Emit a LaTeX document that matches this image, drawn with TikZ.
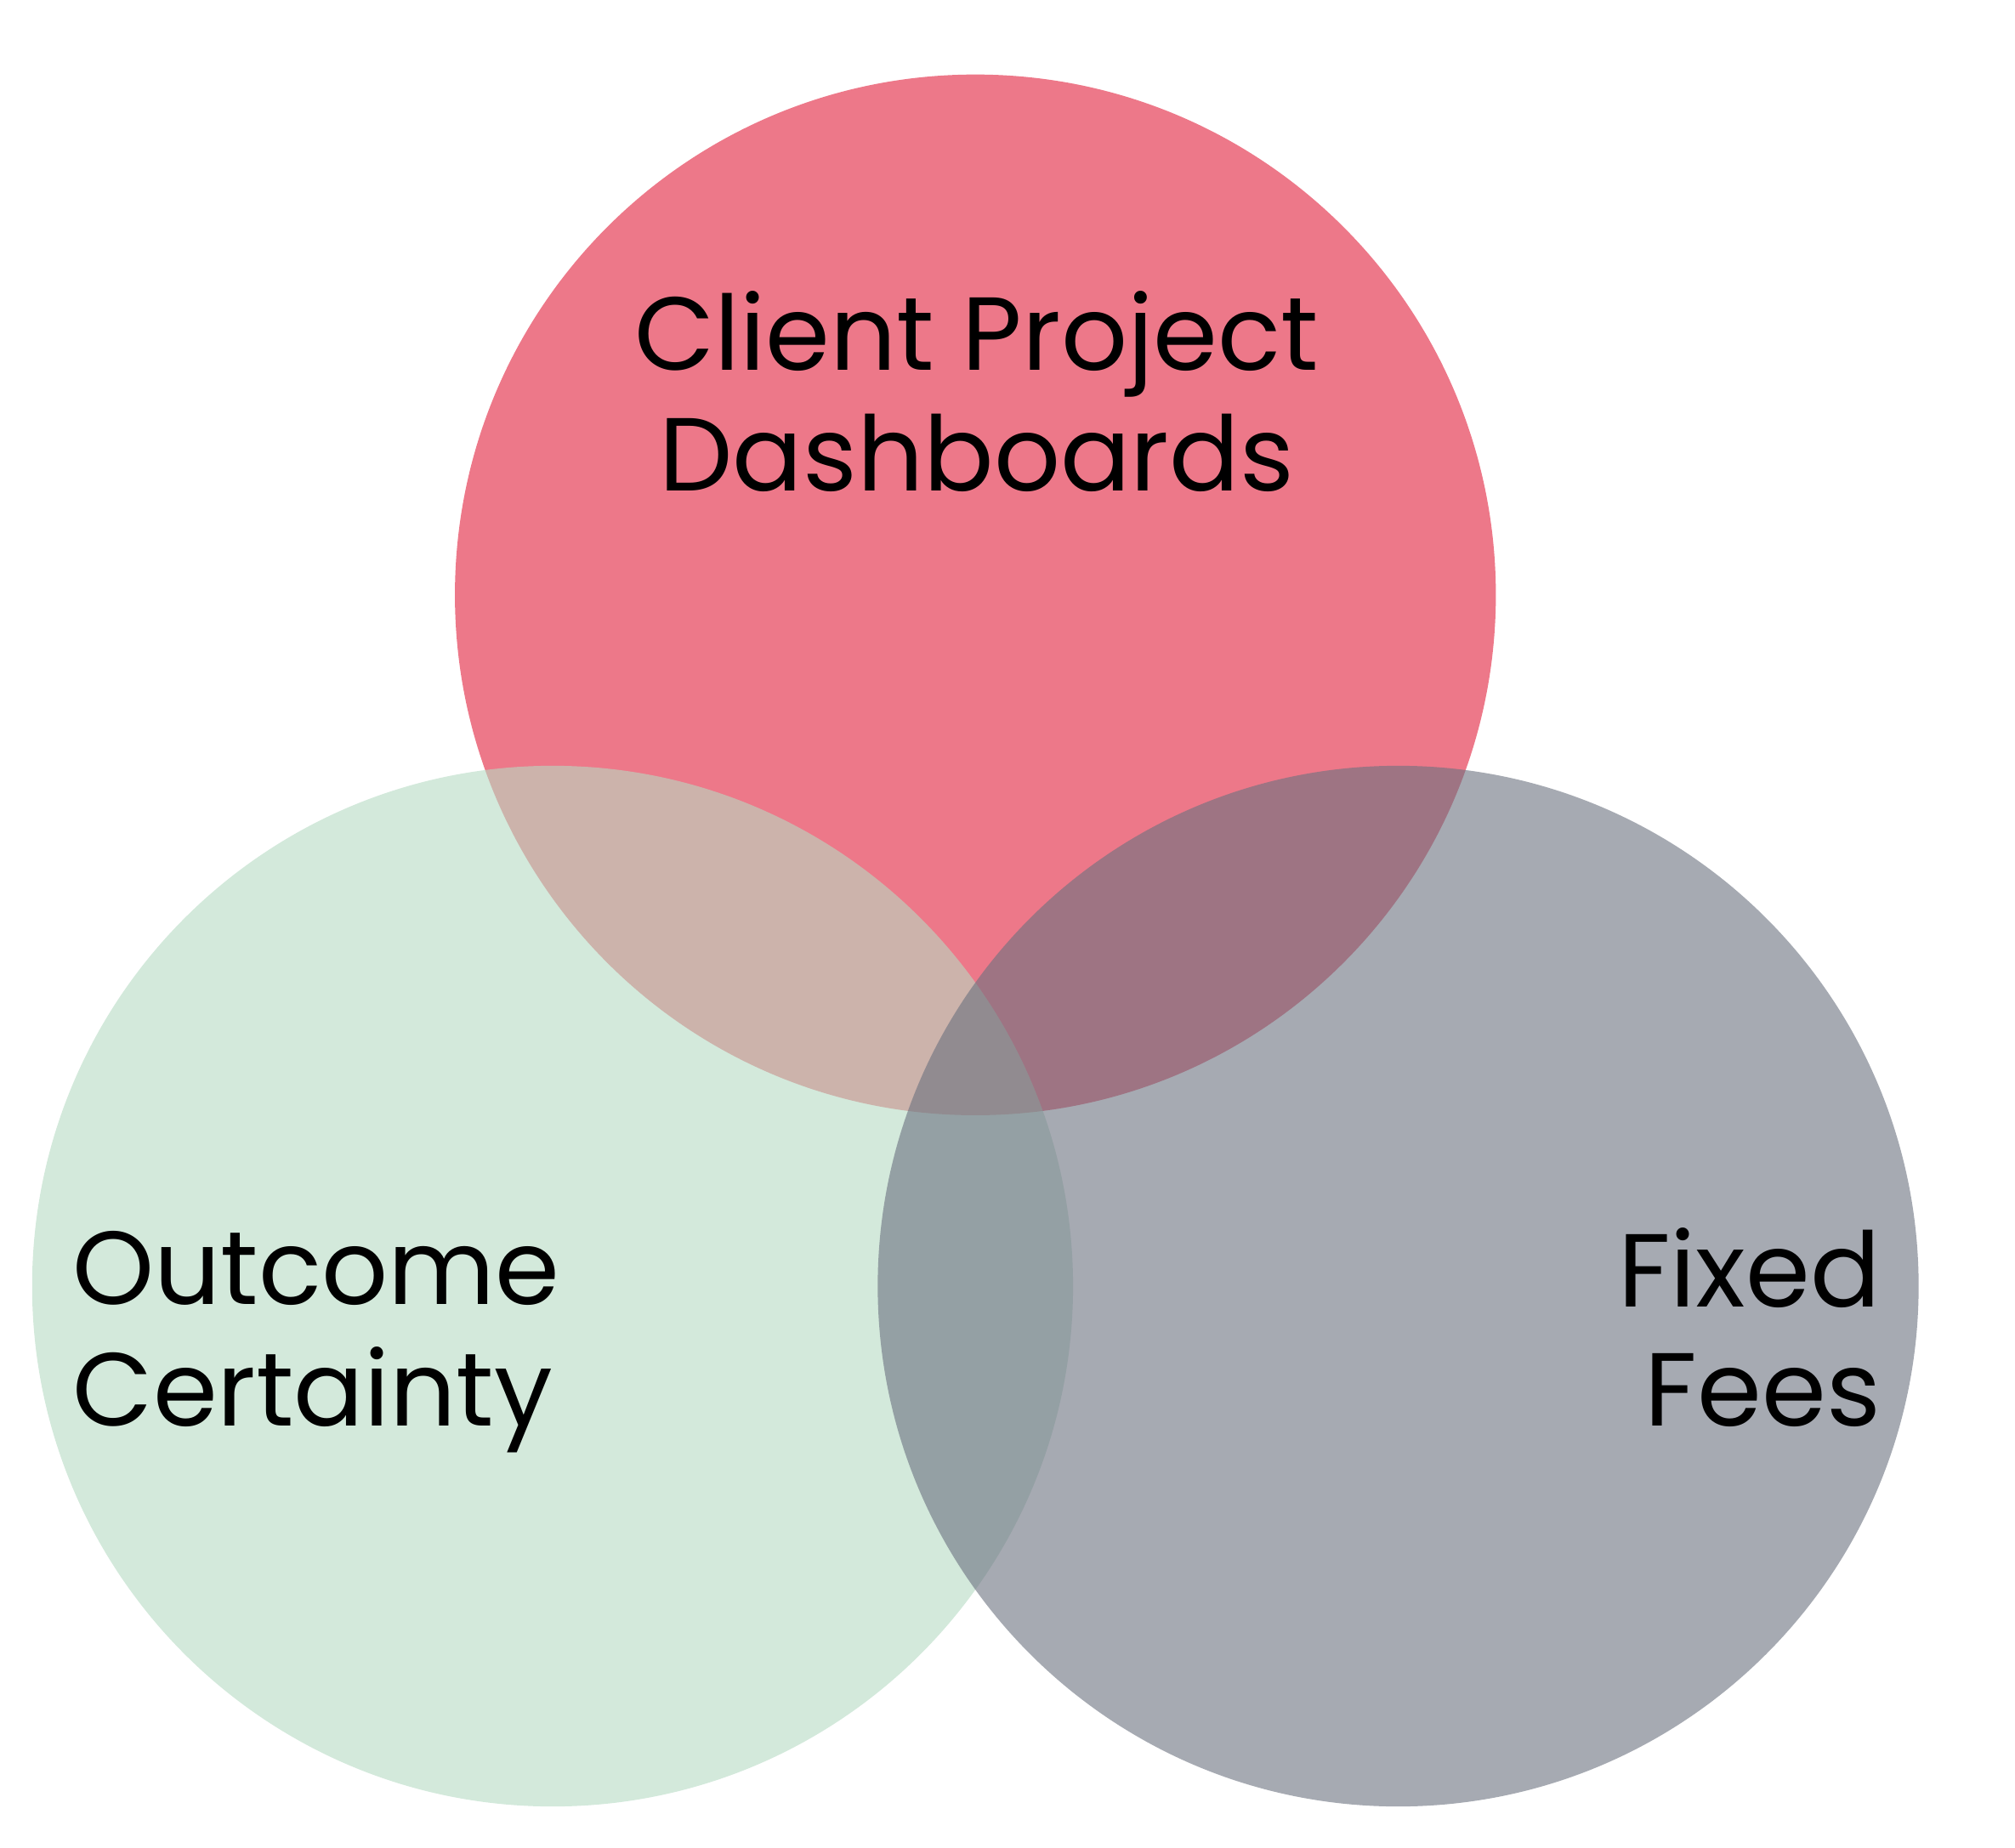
\documentclass[tikz,border=0pt]{standalone}
\usepackage{fontspec}
\setmainfont{Poppins}
\usepackage{tikz}
\definecolor{corRed}{RGB}{225,30,58}
\definecolor{corGreen}{RGB}{182,218,195}
\definecolor{corGray}{RGB}{107,113,127}
\newcommand{\corA}{corRed}
\newcommand{\corB}{corGreen}
\newcommand{\corC}{corGray}
\tikzset{label/.style={inner sep=0pt, font=\fontsize{23}{27}\selectfont}}

\begin{document}
\begin{tikzpicture}
          % frame
        \useasboundingbox (0,0) rectangle (15.68,-14.38);

          % circle 0 top
        \fill [fill=\corA, fill opacity=0.6] (7.59,-4.63) circle (4.05);

          % circle 1 left
        \fill [fill=\corB, fill opacity=0.6] (4.30,-10.01) circle (4.05);

          % circle 2 right
        \fill [fill=\corC, fill opacity=0.6] (10.88,-10.01) circle (4.05);

          % labels
        \node [label, anchor=base] (client) at (7.60,-2.88) {Client Project};
        \node [label, anchor=base] (dash) at (7.60,-3.82) {Dashboards};
        \node [label, anchor=base west] (outcome) at (0.56,-10.15) {Outcome};
        \node [label, anchor=base west] (certainty) at (0.56,-11.10) {Certainty};
        \node [label, anchor=base east] (fixed) at (14.64,-10.17) {Fixed};
        \node [label, anchor=base east] (fees) at (14.64,-11.10) {Fees};
\end{tikzpicture}
\end{document}
